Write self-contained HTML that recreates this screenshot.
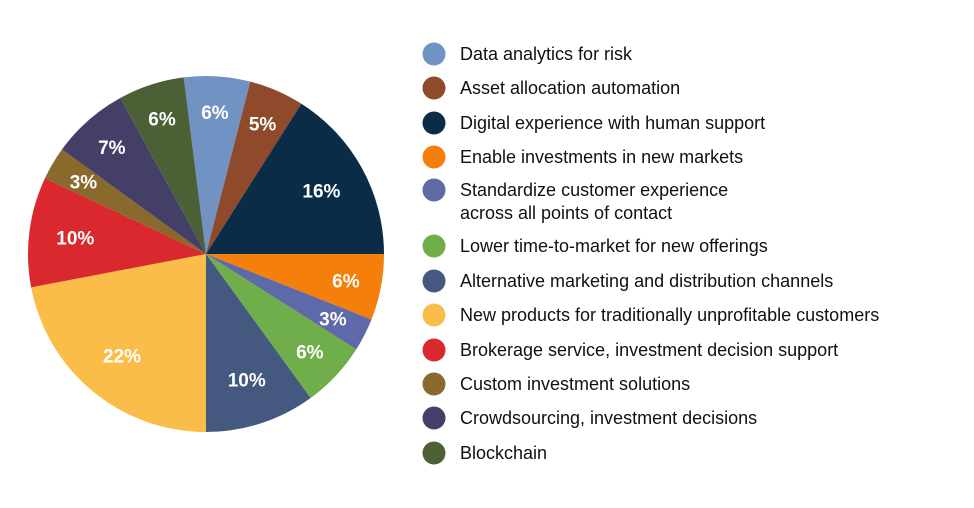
<!DOCTYPE html>
<html><head><meta charset="utf-8"><style>
body{margin:0;background:#fff;width:974px;height:508px;overflow:hidden;font-family:"Liberation Sans",sans-serif}
svg{display:block}
</style></head><body>
<svg id="chart" width="974" height="508"></svg>
<script>
const categories=["Data analytics for risk","Asset allocation automation","Digital experience with human support","Enable investments in new markets","Standardize customer experience|across all points of contact","Lower time-to-market for new offerings","Alternative marketing and distribution channels","New products for traditionally unprofitable customers","Brokerage service, investment decision support","Custom investment solutions","Crowdsourcing, investment decisions","Blockchain"];
const values=[6,5,16,6,3,6,10,22,10,3,7,6];
const colors=["#7193c3","#8e4a2b","#0b2c47","#f47f0a","#5e69a8","#6fae4a","#45587f","#fbbd4a","#d9292e","#8a6a2c","#433f66","#4b6035"];
const NS="http://www.w3.org/2000/svg";
const svg=document.getElementById('chart');
const cx=206,cy=254,R=178,start=-7.2;
const total=values.reduce((a,b)=>a+b,0);
function pt(a,r){const t=a*Math.PI/180;return [cx+r*Math.sin(t),cy-r*Math.cos(t)];}
let acc=0;
values.forEach((v,i)=>{
  const a0=start+acc/total*360,a1=start+(acc+v)/total*360;acc+=v;
  const p0=pt(a0,R),p1=pt(a1,R);
  const path=document.createElementNS(NS,'path');
  path.setAttribute('d',`M${cx},${cy}L${p0[0]},${p0[1]}A${R},${R} 0 ${a1-a0>180?1:0} 1 ${p1[0]},${p1[1]}Z`);
  path.setAttribute('fill',colors[i]);
  
  
  svg.appendChild(path);
  const lp=pt((a0+a1)/2,R*(v<=7?0.8:0.74));
  const t=document.createElementNS(NS,'text');
  t.setAttribute('x',lp[0]);t.setAttribute('y',lp[1]+7);
  t.setAttribute('text-anchor','middle');t.setAttribute('fill','#fff');
  t.setAttribute('font-size','19');t.setAttribute('font-weight','bold');
  t.textContent=v+'%';
  
  
  svg.appendChild(t);
});
const rowsY=[54,88,123,157,190,246,281,315,350,384,418,453];
categories.forEach((c,i)=>{
  const g=document.createElementNS(NS,'g');
  
  
  const ci=document.createElementNS(NS,'circle');
  ci.setAttribute('cx',434);ci.setAttribute('cy',rowsY[i]);ci.setAttribute('r',11.5);ci.setAttribute('fill',colors[i]);
  
  
  g.appendChild(ci);
  c.split('|').forEach((line,j)=>{
    const t=document.createElementNS(NS,'text');
    t.setAttribute('x',460);t.setAttribute('y',rowsY[i]+6+j*23);
    t.setAttribute('font-size','18');t.setAttribute('fill','#111');
    t.textContent=line;
    
    
    g.appendChild(t);
  });
  svg.appendChild(g);
});
</script>
</body></html>
